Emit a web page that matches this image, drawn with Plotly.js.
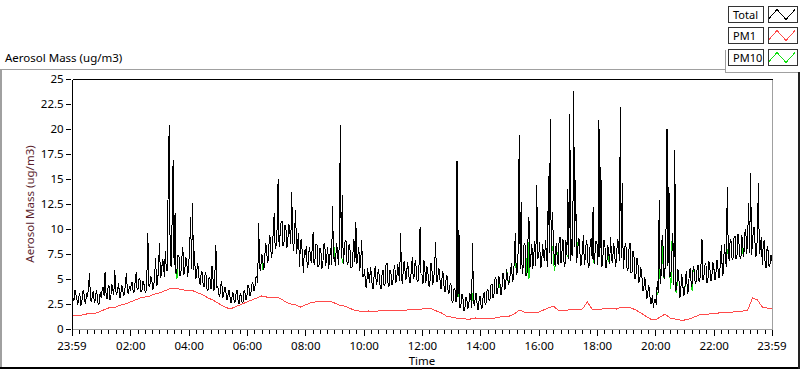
<!DOCTYPE html>
<html>
<head>
<meta charset="utf-8">
<script src="https://cdn.plot.ly/plotly-3.0.1.min.js"></script>
<style>html,body{margin:0;padding:0;background:#fff;}#chart{width:800px;height:369px;}
#chart svg .scatterlayer path{shape-rendering:crispEdges;}
#chart svg .layer-above path{shape-rendering:crispEdges;}
</style>
</head>
<body>
<div id="chart"></div>
<script>
// ---------------- DATA ----------------
// Total aerosol mass, one value every 2 minutes from 23:59 (previous day) to 23:59 (one row per hour)
const totalValues = [
  7.6, 3.1, 2.8, 3.9, 3.5, 2.9, 2.4, 3.2, 3.6, 2.3, 2.6, 3.7, 3.9, 2.8, 2.5, 3.6, 3.2, 4.2, 5.6, 3.0, 2.7, 3.4, 3.8, 2.6, 2.9, 3.9, 3.4, 2.4, 2.6, 3.7,
  3.1, 3.9, 4.2, 3.3, 5.7, 3.6, 3.0, 4.1, 4.4, 2.9, 3.3, 4.5, 4.0, 3.4, 5.9, 3.8, 3.4, 4.3, 4.6, 3.1, 3.2, 4.4, 4.1, 3.3, 3.6, 4.6, 5.6, 3.7, 3.5, 4.3,
  3.8, 4.5, 4.7, 3.6, 3.7, 4.8, 5.7, 3.9, 4.0, 5.1, 4.9, 3.7, 3.9, 4.8, 4.5, 3.8, 3.6, 5.2, 9.6, 4.4, 4.2, 5.3, 5.0, 3.9, 4.1, 5.4, 7.1, 4.3, 4.6, 6.2,
  8.6, 5.1, 5.4, 7.0, 6.6, 5.2, 7.8, 6.0, 5.8, 15.2, 20.4, 6.9, 6.2, 11.0, 16.9, 6.4, 11.6, 5.5, 6.0, 7.4, 7.3, 5.3, 5.6, 7.1, 8.2, 5.4, 5.9, 7.2, 6.8, 5.2,
  6.5, 7.9, 11.2, 6.0, 12.6, 5.9, 7.8, 5.0, 5.2, 6.6, 6.1, 4.6, 4.4, 5.8, 5.6, 4.3, 4.2, 5.7, 5.3, 3.8, 3.9, 5.2, 5.0, 4.0, 6.3, 4.5, 3.8, 5.6, 8.4, 4.1,
  4.3, 3.5, 3.2, 4.4, 4.8, 3.1, 3.4, 4.2, 4.1, 3.0, 2.9, 3.9, 3.8, 2.7, 2.6, 3.7, 3.5, 2.6, 2.8, 3.8, 3.9, 2.6, 2.5, 3.6, 3.3, 2.6, 2.7, 3.9, 3.6, 2.9,
  3.4, 4.4, 4.2, 3.3, 3.6, 4.5, 4.7, 3.8, 4.0, 5.1, 5.3, 4.6, 10.6, 6.2, 5.8, 7.5, 7.2, 5.9, 6.4, 8.6, 8.3, 6.6, 7.0, 9.4, 9.1, 7.1, 7.6, 9.8, 11.6, 8.0,
  8.4, 10.1, 15.0, 8.2, 9.2, 10.6, 10.8, 8.3, 8.6, 10.4, 10.2, 8.1, 8.9, 10.5, 9.8, 8.5, 13.7, 8.8, 7.8, 9.9, 11.9, 7.5, 8.3, 9.6, 6.2, 8.7, 9.0, 7.0, 5.6, 7.9,
  7.4, 8.3, 6.1, 6.5, 8.2, 7.6, 6.6, 8.0, 9.7, 6.4, 7.0, 8.5, 8.4, 6.2, 6.3, 8.1, 7.8, 6.0, 6.5, 8.4, 8.6, 6.3, 7.1, 8.2, 6.0, 7.5, 8.1, 6.4, 12.3, 7.0,
  7.2, 6.3, 8.6, 7.9, 6.4, 8.8, 20.4, 7.1, 13.4, 6.5, 7.5, 8.9, 8.8, 6.4, 6.6, 8.5, 7.9, 6.1, 6.2, 8.3, 9.0, 6.7, 10.7, 6.5, 7.3, 8.2, 5.8, 6.9, 8.9, 5.3,
  5.2, 6.0, 4.3, 4.1, 6.1, 5.3, 4.6, 6.2, 5.5, 4.0, 4.1, 5.8, 6.3, 4.4, 4.8, 6.0, 5.4, 4.2, 4.0, 5.6, 5.9, 4.3, 4.5, 6.4, 6.6, 4.6, 4.2, 5.9, 5.7, 4.4,
  4.7, 5.9, 6.4, 4.6, 4.9, 6.5, 5.6, 4.8, 9.6, 5.0, 4.5, 6.6, 6.8, 4.9, 5.1, 6.7, 6.0, 4.7, 4.6, 6.3, 7.2, 5.0, 5.3, 6.9, 6.2, 4.7, 4.8, 6.5, 10.2, 5.5,
  5.4, 4.5, 6.9, 5.8, 4.6, 6.3, 5.8, 4.3, 4.2, 6.6, 6.4, 4.4, 5.0, 6.2, 8.7, 4.8, 4.7, 6.1, 5.9, 4.0, 4.1, 5.8, 5.5, 3.7, 3.8, 5.4, 5.2, 3.5, 3.6, 4.6,
  4.4, 2.6, 2.8, 4.1, 3.9, 2.7, 16.8, 3.2, 9.9, 2.1, 2.4, 3.5, 3.3, 1.8, 1.9, 3.2, 3.1, 2.0, 2.2, 3.6, 3.4, 2.1, 8.6, 2.7, 2.3, 3.5, 3.6, 1.9, 2.0, 3.3,
  3.2, 2.0, 2.1, 3.4, 3.7, 2.4, 2.6, 4.0, 3.9, 2.8, 3.0, 4.4, 4.5, 3.1, 3.4, 5.0, 5.2, 3.5, 3.8, 5.3, 4.9, 3.4, 3.6, 5.5, 5.6, 3.9, 4.1, 6.0, 5.3, 4.4,
  4.8, 6.2, 6.6, 4.7, 5.1, 7.0, 9.6, 5.4, 5.7, 8.1, 19.4, 6.0, 12.7, 5.5, 6.2, 8.6, 8.4, 5.3, 5.6, 8.9, 11.2, 6.1, 7.3, 8.5, 6.0, 7.9, 8.8, 6.3, 14.4, 7.0,
  7.2, 8.7, 6.1, 6.3, 8.5, 7.4, 6.8, 8.9, 7.9, 6.2, 15.3, 7.6, 21.0, 6.5, 11.7, 8.1, 7.0, 6.3, 8.6, 7.2, 6.4, 8.8, 9.2, 6.6, 7.5, 9.0, 6.7, 6.2, 8.9, 7.4,
  14.0, 7.0, 21.5, 6.8, 9.0, 7.3, 23.8, 8.2, 14.9, 6.6, 7.6, 9.1, 8.8, 6.3, 6.5, 8.7, 9.4, 6.4, 7.2, 8.9, 8.3, 6.1, 6.4, 8.6, 9.1, 7.0, 12.2, 6.5, 7.4, 8.8,
  8.5, 6.4, 20.9, 7.2, 16.2, 6.2, 7.0, 8.9, 8.8, 6.1, 6.3, 8.4, 7.7, 6.5, 9.2, 7.0, 6.6, 8.6, 8.0, 6.2, 6.9, 9.0, 8.7, 6.8, 22.2, 7.1, 14.6, 6.0, 7.1, 8.6,
  8.1, 5.8, 6.0, 8.2, 8.6, 5.6, 5.7, 7.8, 7.4, 5.0, 5.3, 7.1, 6.8, 4.6, 4.9, 6.2, 5.6, 3.9, 3.8, 5.2, 4.6, 3.0, 3.2, 4.4, 4.0, 2.5, 2.6, 3.4, 2.1, 2.9,
  3.0, 2.4, 4.8, 3.6, 12.9, 4.5, 5.5, 9.4, 8.2, 5.0, 6.1, 10.1, 20.0, 6.3, 14.2, 5.2, 5.4, 8.6, 9.6, 4.4, 17.9, 3.8, 4.2, 6.0, 5.7, 3.1, 3.4, 5.5, 4.9, 3.3,
  3.6, 5.0, 5.8, 3.5, 3.9, 5.7, 6.1, 4.2, 4.6, 6.3, 5.9, 4.5, 4.8, 6.1, 6.4, 4.7, 5.1, 6.5, 9.0, 4.9, 5.3, 6.4, 6.6, 4.6, 4.7, 6.8, 6.2, 4.8, 5.0, 6.7,
  6.5, 5.0, 4.9, 6.8, 6.9, 5.1, 5.2, 7.0, 8.4, 5.3, 5.6, 8.5, 7.6, 6.2, 14.2, 7.9, 6.8, 9.0, 8.7, 6.9, 7.1, 9.2, 9.3, 7.0, 7.4, 9.5, 8.6, 7.2, 7.0, 9.4,
  8.3, 7.2, 9.6, 10.0, 7.5, 9.3, 12.6, 7.6, 15.6, 7.4, 8.8, 10.1, 10.2, 7.2, 7.4, 9.4, 14.6, 7.5, 8.1, 9.2, 6.4, 8.5, 8.9, 6.3, 6.1, 8.3, 7.8, 6.2, 6.5, 7.4,
  6.8
];
// PM10, same 2-minute sampling
const pm10Values = [
  7.6, 3.1, 2.8, 3.9, 3.5, 2.9, 2.4, 3.2, 3.6, 2.3, 2.6, 3.7, 3.9, 2.8, 2.5, 3.6, 3.2, 4.2, 5.6, 3.0, 2.7, 3.4, 3.8, 2.6, 2.9, 3.9, 3.4, 2.4, 2.6, 3.7,
  3.1, 3.9, 4.2, 3.3, 5.7, 3.6, 3.0, 4.1, 4.4, 2.9, 3.3, 4.5, 4.0, 3.4, 5.9, 3.8, 3.4, 4.3, 4.6, 3.1, 3.2, 4.4, 4.1, 3.3, 3.6, 4.6, 5.6, 3.7, 3.5, 4.3,
  3.8, 4.5, 4.7, 3.6, 3.7, 4.8, 5.7, 3.9, 4.0, 5.1, 4.9, 3.7, 3.9, 4.8, 4.5, 3.8, 3.6, 5.2, 9.6, 4.4, 4.2, 5.3, 5.0, 3.9, 4.1, 5.4, 7.1, 4.3, 4.6, 6.2,
  8.6, 5.1, 5.4, 7.0, 6.6, 5.2, 7.8, 6.0, 5.8, 15.2, 20.4, 6.9, 6.2, 11.0, 16.9, 6.4, 6.7, 5.5, 5.0, 7.4, 7.3, 5.3, 5.6, 7.1, 8.2, 5.4, 5.9, 7.2, 6.8, 5.2,
  6.5, 7.9, 11.2, 6.0, 12.6, 5.9, 7.8, 5.0, 5.2, 6.6, 6.1, 4.6, 4.4, 5.8, 5.6, 4.3, 4.2, 5.7, 5.3, 3.8, 3.9, 5.2, 5.0, 4.0, 6.3, 4.5, 3.8, 5.6, 8.4, 4.1,
  4.3, 3.5, 3.2, 4.4, 4.8, 3.1, 3.4, 4.2, 4.1, 3.0, 2.9, 3.9, 3.8, 2.7, 2.6, 3.7, 3.5, 2.6, 2.8, 3.8, 3.9, 2.6, 2.5, 3.6, 3.3, 2.6, 2.7, 3.9, 3.6, 2.9,
  3.4, 4.4, 4.2, 3.3, 3.6, 4.5, 4.7, 3.8, 4.0, 5.1, 5.3, 4.6, 10.6, 6.2, 5.8, 7.5, 6.0, 5.9, 6.4, 8.6, 8.3, 6.6, 7.0, 9.4, 9.1, 7.1, 7.6, 9.8, 11.6, 8.0,
  8.4, 10.1, 15.0, 8.2, 9.2, 10.6, 10.8, 8.3, 8.6, 10.4, 10.2, 8.1, 8.9, 10.5, 9.8, 8.5, 13.7, 8.8, 7.8, 9.9, 11.9, 7.5, 8.3, 9.6, 6.2, 8.7, 9.0, 7.0, 5.6, 7.9,
  7.4, 8.3, 6.1, 6.5, 8.2, 7.6, 6.6, 8.0, 9.7, 6.4, 7.0, 8.5, 8.4, 6.2, 6.3, 8.1, 7.8, 6.0, 6.5, 8.4, 8.6, 6.3, 7.1, 8.2, 6.0, 7.5, 8.1, 6.4, 12.3, 7.0,
  8.2, 6.3, 8.6, 7.9, 6.4, 8.8, 20.4, 7.1, 7.0, 6.5, 7.5, 8.9, 8.8, 6.4, 6.6, 8.5, 7.9, 6.1, 6.2, 8.3, 9.0, 6.7, 10.7, 6.5, 7.3, 8.2, 5.8, 6.9, 8.9, 5.3,
  5.2, 6.0, 4.3, 4.1, 6.1, 5.3, 4.6, 6.2, 5.5, 4.0, 4.1, 5.8, 6.3, 4.4, 4.8, 6.0, 5.4, 4.2, 4.0, 5.6, 5.9, 4.3, 4.5, 6.4, 6.6, 4.6, 4.2, 5.9, 5.7, 4.4,
  4.7, 5.9, 6.4, 4.6, 4.9, 6.5, 5.6, 4.8, 9.6, 5.0, 4.5, 6.6, 6.8, 4.9, 5.1, 6.7, 6.0, 4.7, 4.6, 6.3, 7.2, 5.0, 5.3, 6.9, 6.2, 4.7, 4.8, 6.5, 10.2, 5.5,
  5.4, 4.5, 6.9, 5.8, 4.6, 6.3, 5.8, 4.3, 4.2, 6.6, 6.4, 4.4, 5.0, 6.2, 8.7, 4.8, 4.7, 6.1, 5.9, 4.0, 4.1, 5.8, 5.5, 3.7, 3.8, 5.4, 5.2, 3.5, 3.6, 4.6,
  4.4, 2.6, 2.8, 4.1, 3.9, 2.7, 16.8, 3.2, 3.7, 2.1, 2.4, 3.5, 3.3, 1.8, 1.9, 3.2, 3.1, 2.0, 2.2, 3.6, 3.4, 2.1, 3.6, 2.7, 2.3, 3.5, 3.6, 1.9, 2.0, 3.3,
  3.2, 2.0, 2.1, 3.4, 3.7, 2.4, 2.6, 4.0, 3.9, 2.8, 3.0, 4.4, 4.5, 3.1, 3.4, 5.0, 5.2, 3.5, 3.8, 5.3, 4.2, 3.4, 3.6, 5.5, 5.6, 3.9, 4.1, 6.0, 5.3, 4.4,
  4.8, 6.2, 6.6, 4.7, 5.1, 7.0, 7.8, 5.4, 5.7, 8.1, 19.4, 6.0, 12.7, 5.5, 6.2, 8.6, 8.4, 5.3, 7.4, 8.9, 5.0, 6.1, 7.3, 8.5, 6.0, 7.9, 8.8, 6.3, 14.4, 7.0,
  7.2, 8.7, 6.1, 6.3, 8.5, 7.4, 6.8, 8.9, 7.9, 6.2, 15.3, 7.6, 21.0, 6.5, 8.3, 8.1, 5.8, 6.3, 8.6, 7.2, 6.4, 8.8, 9.2, 6.6, 7.5, 9.0, 6.7, 6.2, 8.9, 7.4,
  7.2, 7.0, 21.5, 6.8, 9.0, 7.3, 23.8, 8.2, 14.9, 6.6, 8.4, 9.1, 8.8, 6.3, 6.5, 8.7, 9.4, 6.4, 7.2, 8.9, 8.3, 6.1, 6.4, 8.6, 9.1, 7.0, 8.0, 6.5, 7.4, 8.8,
  8.5, 6.4, 20.9, 7.2, 16.2, 6.2, 7.0, 8.9, 8.8, 6.1, 6.3, 8.4, 6.8, 6.5, 9.2, 7.0, 6.6, 8.6, 8.0, 6.2, 6.9, 9.0, 8.7, 6.8, 22.2, 7.1, 14.6, 6.0, 7.1, 8.6,
  8.1, 5.8, 6.0, 8.2, 8.6, 5.6, 5.7, 7.8, 7.4, 5.0, 5.3, 7.1, 6.8, 4.6, 4.9, 6.2, 5.6, 3.9, 3.8, 5.2, 4.6, 3.0, 3.2, 4.4, 4.0, 2.5, 2.6, 3.4, 2.1, 2.9,
  3.0, 2.4, 3.7, 3.6, 7.1, 4.5, 5.5, 9.4, 6.2, 5.0, 6.1, 10.1, 11.0, 6.3, 14.2, 5.2, 4.0, 8.6, 9.6, 4.4, 17.9, 3.8, 3.6, 6.0, 5.7, 3.1, 3.4, 5.5, 4.9, 3.3,
  3.6, 5.0, 5.8, 3.5, 3.9, 5.7, 6.1, 4.2, 3.8, 6.3, 5.9, 4.5, 4.8, 6.1, 6.4, 4.7, 5.1, 6.5, 9.0, 4.9, 5.3, 6.4, 6.6, 4.6, 4.7, 6.8, 6.2, 4.8, 5.0, 6.7,
  6.5, 5.0, 4.9, 6.8, 6.9, 5.1, 5.2, 7.0, 8.4, 5.3, 5.6, 8.5, 7.6, 6.2, 8.0, 7.9, 6.8, 9.0, 8.7, 6.9, 7.1, 9.2, 9.3, 7.0, 7.4, 9.5, 8.6, 7.2, 7.0, 9.4,
  7.6, 7.2, 9.6, 10.0, 7.5, 9.3, 12.6, 7.6, 15.6, 7.4, 8.8, 10.1, 10.2, 7.2, 7.4, 9.4, 14.6, 7.5, 8.1, 9.2, 6.4, 8.5, 8.9, 6.3, 6.1, 8.3, 7.8, 6.2, 6.5, 7.4,
  6.8
];
// PM1, one value every 10 minutes
const pm1Values = [
  1.3, 1.4, 1.4, 1.5, 1.6, 1.6,
  1.8, 2.0, 2.2, 2.2, 2.4, 2.5,
  2.7, 2.9, 3.1, 3.2, 3.3, 3.5,
  3.6, 3.8, 4.0, 4.1, 4.0, 3.9,
  3.9, 3.8, 3.6, 3.4, 3.1, 2.9,
  2.6, 2.3, 2.1, 2.1, 2.3, 2.5,
  2.7, 2.9, 3.1, 3.3, 3.2, 3.1,
  3.2, 3.0, 2.7, 2.5, 2.4, 2.2,
  2.4, 2.6, 2.7, 2.8, 2.7, 2.8,
  2.6, 2.4, 2.3, 2.1, 1.9, 1.8,
  1.7, 1.8, 1.7, 1.8, 1.9, 1.8,
  1.9, 1.9, 1.8, 1.9, 2.0, 1.9,
  2.0, 2.1, 2.0, 1.8, 1.6, 1.3,
  1.2, 1.1, 1.1, 1.0, 1.0, 1.1,
  1.0, 1.1, 1.1, 1.1, 1.2, 1.3,
  1.3, 1.5, 1.9, 1.7, 1.7, 1.6,
  1.7, 1.9, 2.1, 2.3, 1.9, 1.9,
  1.9, 2.0, 1.9, 2.0, 2.7, 2.0,
  2.0, 2.0, 2.1, 2.1, 2.0, 2.2,
  2.2, 2.1, 1.9, 1.6, 1.3, 1.0,
  0.9, 1.2, 1.5, 1.1, 1.0, 0.9,
  0.9, 1.0, 1.2, 1.4, 1.5, 1.5,
  1.6, 1.6, 1.7, 1.6, 1.7, 1.8,
  1.8, 1.9, 3.1, 2.9, 2.2, 2.1,
  2.1
];
const seriesNames = ['Total', 'PM1', 'PM10'];
const startTime = '2024-01-01 23:59:00';
const endTime = '2024-01-02 23:59:00';
const totalStepMinutes = 2;
const pm1StepMinutes = 10;
const xTickValues = ['2024-01-01 23:59', '2024-01-02 02:00', '2024-01-02 04:00', '2024-01-02 06:00',
  '2024-01-02 08:00', '2024-01-02 10:00', '2024-01-02 12:00', '2024-01-02 14:00', '2024-01-02 16:00',
  '2024-01-02 18:00', '2024-01-02 20:00', '2024-01-02 22:00', '2024-01-02 23:59'];
const xTickLabels = ['23:59', '02:00', '04:00', '06:00', '08:00', '10:00', '12:00', '14:00', '16:00',
  '18:00', '20:00', '22:00', '23:59'];
const yTickValues = [0, 2.5, 5, 7.5, 10, 12.5, 15, 17.5, 20, 22.5, 25];
const yTickLabels = ['0', '2.5', '5', '7.5', '10', '12.5', '15', '17.5', '20', '22.5', '25'];
const chartTitle = 'Aerosol Mass (ug/m3)';
const yTitle = 'Aerosol Mass (ug/m3)';
const xTitle = 'Time';

// ---------------- BUILD ----------------
const startMs = Date.UTC(2024, 0, 1, 23, 59, 0);
function timeAxis(n, stepMin) {
  const out = [];
  for (let i = 0; i < n; i++) {
    out.push(new Date(startMs + i * stepMin * 60000).toISOString().slice(0, 19).replace('T', ' '));
  }
  return out;
}
const xTotal = timeAxis(totalValues.length, totalStepMinutes);
const xPm10 = timeAxis(pm10Values.length, totalStepMinutes);
const xPm1 = timeAxis(pm1Values.length, pm1StepMinutes);

const FONT = 'Noto Sans, DejaVu Sans, sans-serif';
const L = 72, R = 772, T = 79, B = 329;
const fx = p => (p - L) / (R - L);
const fy = p => (B - p) / (B - T);

function line(x0, y0, x1, y1, color, w) {
  return {type: 'line', xref: 'paper', yref: 'paper', x0: fx(x0), y0: fy(y0), x1: fx(x1), y1: fy(y1),
    line: {color: color, width: w || 1}, layer: 'above'};
}
function rect(x0, y0, x1, y1, color) {
  return {type: 'rect', xref: 'paper', yref: 'paper', x0: fx(x0), y0: fy(y0), x1: fx(x1), y1: fy(y1),
    line: {color: color, width: 1}, fillcolor: 'rgba(0,0,0,0)', layer: 'above'};
}
function zig(x0, y0, color) {
  const pts = [[x0, y0 + 10], [x0 + 8, y0 + 1], [x0 + 17, y0 + 11], [x0 + 26, y0 + 1]];
  const path = pts.map((p, i) => (i ? 'L' : 'M') + fx(p[0]) + ',' + fy(p[1])).join(' ');
  return {type: 'path', xref: 'paper', yref: 'paper', path: path, line: {color: color, width: 1}, layer: 'above'};
}

const gray = '#a0a0a0';
const shapes = [
  // plot frame
  line(72.5, 79.5, 772.5, 79.5, '#000', 1),
  line(72.5, 79.5, 72.5, 329.5, '#000', 1),
  line(772.5, 79.5, 772.5, 329.5, gray, 1),
  line(72.5, 329.5, 772.5, 329.5, gray, 1),
  // outer panel
  line(0, 69.5, 725, 69.5, gray, 1),
  line(725.5, 50, 725.5, 72, gray, 1),
  line(725, 72.5, 799, 72.5, gray, 1),
  line(1, 69, 1, 369, gray, 2),
  line(0, 367.5, 800, 367.5, '#000', 2),
  line(798.5, 72, 798.5, 369, '#222', 2),
  // legend boxes
  rect(728.5, 6.5, 763.5, 22.5, '#333'), rect(768.5, 6.5, 797.5, 22.5, '#333'),
  rect(728.5, 27.5, 763.5, 43.5, '#333'), rect(768.5, 27.5, 797.5, 43.5, '#333'),
  rect(728.5, 49.5, 763.5, 65.5, '#333'), rect(768.5, 49.5, 797.5, 65.5, '#333'),
  zig(769, 8.5, '#000'), zig(769, 29.5, '#ff4a4a'), zig(769, 51.5, '#10e010')
];
const legendRows = [14.5, 35.5, 57.5];
const annotations = seriesNames.map((n, i) => ({
  xref: 'paper', yref: 'paper', x: fx(730.5), y: fy(legendRows[i]), xanchor: 'left', yanchor: 'middle',
  text: n, showarrow: false, font: {family: FONT, size: 11, color: '#000'}
}));

const traces = [
  {x: xPm10, y: pm10Values, name: seriesNames[2], type: 'scatter', mode: 'lines',
    line: {color: '#10e010', width: 1}},
  {x: xPm1, y: pm1Values, name: seriesNames[1], type: 'scatter', mode: 'lines',
    line: {color: '#ff4a4a', width: 1}},
  {x: xTotal, y: totalValues, name: seriesNames[0], type: 'scatter', mode: 'lines',
    line: {color: '#000', width: 1}}
];

const layout = {
  width: 800, height: 369,
  margin: {l: L, r: 800 - R, t: T, b: 369 - B, pad: 0},
  paper_bgcolor: '#fff', plot_bgcolor: '#fff',
  showlegend: false,
  font: {family: FONT, size: 11.5, color: '#000'},
  title: {text: chartTitle, x: 5 / 800, xanchor: 'left', xref: 'container',
    y: 1 - 58 / 369, yanchor: 'middle', yref: 'container',
    font: {family: FONT, size: 11.5, color: '#000'}},
  xaxis: {
    type: 'date', range: [startTime, endTime], autorange: false,
    tickmode: 'array', tickvals: xTickValues, ticktext: xTickLabels,
    ticks: 'outside', ticklen: 6, tickcolor: '#000', tickwidth: 1,
    showgrid: false, zeroline: false, showline: false,
    tickfont: {family: FONT, size: 11.5, color: '#000'},
    minor: {ticks: 'outside', ticklen: 4, tickcolor: '#000', dtick: 900000, tick0: '2024-01-02 00:00:00', showgrid: false},
    title: {text: xTitle, standoff: 1, font: {family: FONT, size: 11.5, color: '#000'}}
  },
  yaxis: {
    range: [0, 25], autorange: false,
    tickmode: 'array', tickvals: yTickValues, ticktext: yTickLabels,
    ticks: 'outside', ticklen: 5, tickcolor: '#000', tickwidth: 1,
    showgrid: false, zeroline: false, showline: false,
    tickfont: {family: FONT, size: 11.5, color: '#000'},
    title: {text: yTitle, standoff: 3, font: {family: FONT, size: 11.5, color: '#5a1e2d'}}
  },
  shapes: shapes,
  annotations: annotations
};

Plotly.newPlot('chart', traces, layout, {displayModeBar: false, staticPlot: true});
</script>
</body>
</html>
